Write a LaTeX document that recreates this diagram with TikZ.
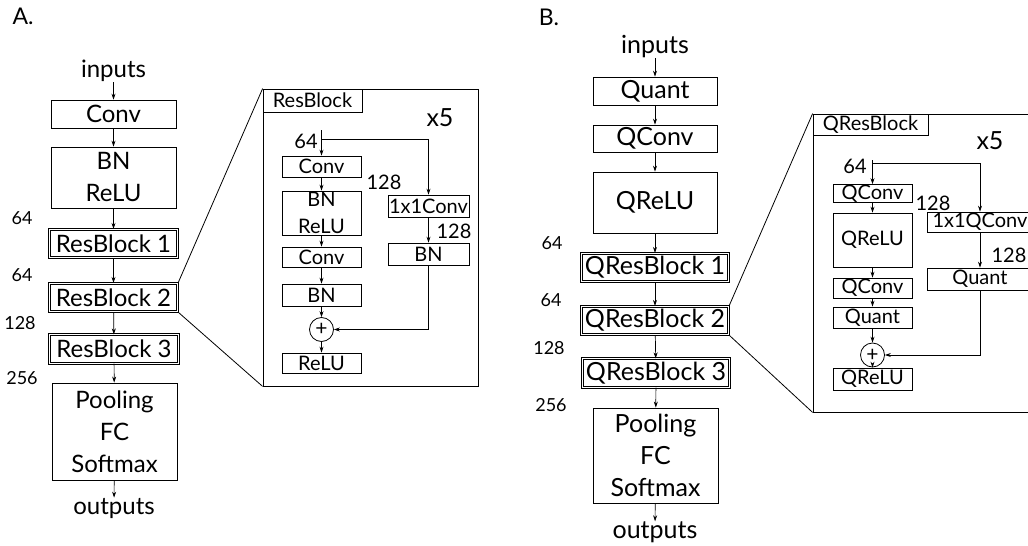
\documentclass[tikz,border=0pt]{standalone}
\usepackage{fontspec}
\setmainfont{Lato}
\usetikzlibrary{arrows.meta}
\begin{document}
\begin{tikzpicture}[x=1pt,y=-1pt,
  box/.style={draw, line width=0.8pt, inner sep=0pt, align=center},
  dbox/.style={draw, double, double distance=1.4pt, line width=0.7pt, inner sep=0pt},
  arr/.style={-{Stealth[length=6pt,width=4pt]}, line width=0.7pt},
  ln/.style={line width=0.8pt},
  txt/.style={inner sep=0pt},
  mainf/.style={font=\fontsize{24}{32}\selectfont},
  mainfb/.style={font=\fontsize{25}{32}\selectfont},
  numf/.style={font=\fontsize{18}{20}\selectfont},
  detf/.style={font=\fontsize{20}{27}\selectfont},
  detfb/.style={font=\fontsize{20}{27}\selectfont},
  xf/.style={font=\fontsize{25}{26}\selectfont},
  plusn/.style={draw, circle, line width=0.8pt, inner sep=0pt, minimum size=24pt, font=\fontsize{21}{21}\selectfont}
]
\clip (0,0) rectangle (1028,546);
\useasboundingbox (0,0) rectangle (1028,546);
\fill[white] (0,0) rectangle (1028,546);

% ===== A =====
\node[txt, font=\fontsize{23}{24}\selectfont] (labA) at (23,16) {A.};
\node[txt, mainf] (inA) at (113.5,71) {inputs};
\node[box, mainf, minimum width=125pt, minimum height=28pt] (convA) at (113.5,114) {Conv};
\node[box, mainf, minimum width=125pt, minimum height=61pt] (bnA) at (113.5,177.5) {BN\\ReLU};
\node[dbox, mainf, minimum width=128.5pt, minimum height=28.5pt] (rb1) at (113.5,243.5) {ResBlock 1};
\node[dbox, mainf, minimum width=128.5pt, minimum height=28.5pt] (rb2) at (113.5,297.5) {ResBlock 2};
\node[dbox, mainf, minimum width=128.5pt, minimum height=28.5pt] (rb3) at (114,349) {ResBlock 3};
\node[box, mainf, minimum width=125pt, minimum height=97pt] (poolA) at (114.5,431.5) {Pooling\\FC\\Softmax};
\node[txt, mainf] (outA) at (114,508) {outputs};
\node[txt, numf] (nA1) at (22,218) {64};
\node[txt, numf] (nA2) at (22,275) {64};
\node[txt, numf] (nA3) at (20,323) {128};
\node[txt, numf] (nA4) at (22,378) {256};
\draw[arr] (inA) -- (convA);
\draw[arr] (convA) -- (bnA);
\draw[arr] (bnA) -- (rb1);
\draw[arr] (rb1) -- (rb2);
\draw[arr] (rb2) -- (rb3);
\draw[arr] (rb3) -- (poolA);
\draw[arr] (poolA) -- (outA);

% detail A
\node[box, minimum width=215pt, minimum height=297pt] (detA) at (370.5,237.5) {};
\node[box, detf, minimum width=99pt, minimum height=23pt, anchor=north west] (tabA) at (detA.north west) {ResBlock};
\node[txt, xf] (x5A) at (440,118) {x5};
\node[txt, detf] (dA64) at (306,141) {64};
\node[box, detf, minimum width=79pt, minimum height=21pt] (dc1) at (321.5,166.5) {Conv};
\node[box, detf, minimum width=79pt, minimum height=44pt] (dbr) at (321.5,213) {BN\\ReLU};
\node[box, detf, minimum width=79pt, minimum height=20pt] (dc2) at (321.5,257) {Conv};
\node[box, detf, minimum width=79pt, minimum height=22pt] (dbn) at (321.5,295) {BN};
\node[plusn] (dplus) at (321.5,329.5) {+};
\node[box, detf, minimum width=79pt, minimum height=20pt] (drelu) at (321.5,363) {ReLU};
\node[txt, detf] (dA128) at (384,182) {128};
\node[box, detf, minimum width=81pt, minimum height=22pt] (d11) at (428.5,206) {1x1Conv};
\node[txt, detf] (dA128b) at (454,231) {128};
\node[box, detf, minimum width=81pt, minimum height=22pt] (dbnR) at (428.5,254) {BN};
\coordinate (dinA) at (321.5,130);
\coordinate (djA) at (321.5,139);
\draw[arr] (dinA) -- (dc1);
\draw[arr] (djA) -| (d11);
\draw[arr] (dc1) -- (dbr);
\draw[arr] (dbr) -- (dc2);
\draw[arr] (dc2) -- (dbn);
\draw[arr] (dbn) -- (dplus);
\draw[arr] (dplus) -- (drelu);
\draw[arr] (d11) -- (dbnR);
\draw[arr] (dbnR.south) |- (dplus.east);
\draw[ln] (rb2.north east) -- (detA.north west);
\draw[ln] (rb2.south east) -- (detA.south west);

% ===== B =====
\node[txt, font=\fontsize{23}{24}\selectfont] (labB) at (549,17) {B.};
\node[txt, mainfb] (inB) at (655,47) {inputs};
\node[box, mainfb, minimum width=124pt, minimum height=28pt] (quantB) at (655,91) {Quant};
\node[box, mainfb, minimum width=124pt, minimum height=27pt] (qconvB) at (655,138.5) {QConv};
\node[box, mainfb, minimum width=124pt, minimum height=61pt] (qreluB) at (655,202.5) {QReLU};
\node[dbox, mainfb, minimum width=147.5pt, minimum height=28.5pt] (qrb1) at (655,267.5) {QResBlock 1};
\node[dbox, mainfb, minimum width=147.5pt, minimum height=28.5pt] (qrb2) at (655,320.5) {QResBlock 2};
\node[dbox, mainfb, minimum width=147.5pt, minimum height=28.5pt] (qrb3) at (656,373) {QResBlock 3};
\node[box, mainfb, minimum width=125pt, minimum height=95pt] (poolB) at (655.5,455.5) {Pooling\\FC\\Softmax};
\node[txt, mainfb] (outB) at (655,532) {outputs};
\node[txt, numf] (nB1) at (552,243) {64};
\node[txt, numf] (nB2) at (551,300) {64};
\node[txt, numf] (nB3) at (549,348) {128};
\node[txt, numf] (nB4) at (551,405) {256};
\draw[arr] (inB) -- (quantB);
\draw[arr] (quantB) -- (qconvB);
\draw[arr] (qconvB) -- (qreluB);
\draw[arr] (qreluB) -- (qrb1);
\draw[arr] (qrb1) -- (qrb2);
\draw[arr] (qrb2) -- (qrb3);
\draw[arr] (qrb3) -- (poolB);
\draw[arr] (poolB) -- (outB);

% detail B
\node[box, minimum width=218pt, minimum height=298pt] (detB) at (922,263) {};
\node[box, detfb, minimum width=115pt, minimum height=21pt, anchor=north west] (tabB) at (detB.north west) {QResBlock};
\node[txt, xf] (x5B) at (990,141) {x5};
\node[txt, detfb] (dB64) at (855,166) {64};
\node[box, detfb, minimum width=79pt, minimum height=18pt] (eqc1) at (872.5,193.5) {QConv};
\node[box, detfb, minimum width=79pt, minimum height=54pt] (eqr) at (872.5,240) {QReLU};
\node[box, detfb, minimum width=79pt, minimum height=20pt] (eqc2) at (872.5,288) {QConv};
\node[box, detfb, minimum width=79pt, minimum height=21pt] (equant) at (872.5,317.5) {Quant};
\node[plusn] (eplus) at (872.5,355) {+};
\node[box, detfb, minimum width=79pt, minimum height=22pt] (eqr2) at (872.5,379) {QReLU};
\node[txt, detfb] (dB128) at (933,203) {128};
\node[box, detfb, minimum width=106pt, minimum height=20pt] (e11) at (980,222) {1x1QConv};
\node[txt, detfb] (dB128b) at (1009,255) {128};
\node[box, detfb, minimum width=106pt, minimum height=22pt] (equantR) at (980,279) {Quant};
\coordinate (dinB) at (872.5,160);
\coordinate (djB) at (872.5,163);
\draw[arr] (dinB) -- (eqc1);
\draw[arr] (djB) -| (e11);
\draw[arr] (eqc1) -- (eqr);
\draw[arr] (eqr) -- (eqc2);
\draw[arr] (eqc2) -- (equant);
\draw[arr] (equant) -- (eplus);
\draw[arr] (eplus) -- (eqr2);
\draw[arr] (e11) -- (equantR);
\draw[arr] (equantR.south) |- (eplus.east);
\draw[ln] (qrb2.north east) -- (detB.north west);
\draw[ln] (qrb2.south east) -- (detB.south west);
\end{tikzpicture}
\end{document}
